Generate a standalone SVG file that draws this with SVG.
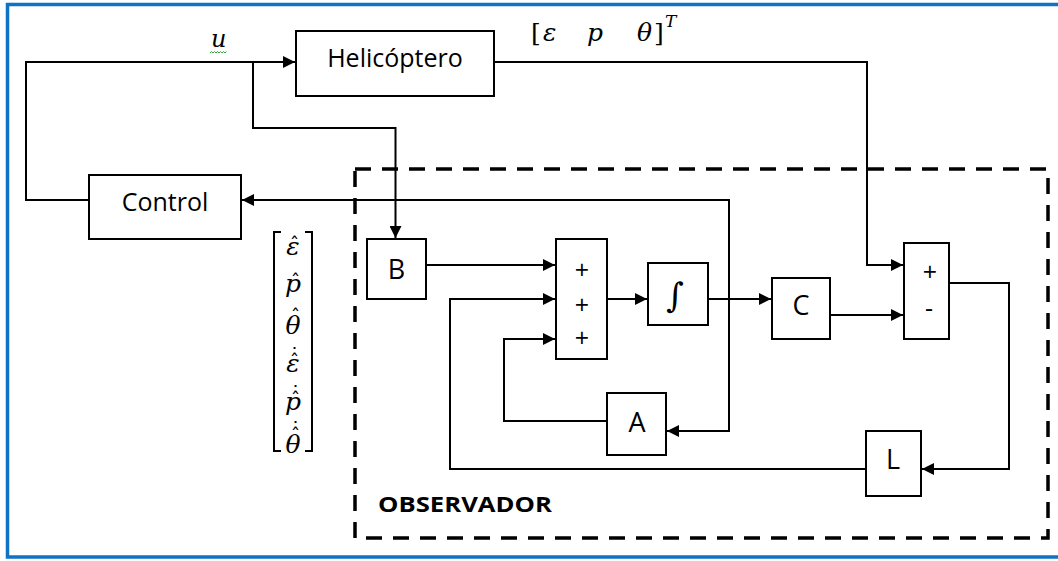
<svg xmlns="http://www.w3.org/2000/svg" width="1058" height="561" viewBox="0 0 1058 561">
<style>
.blk{fill:#fff;stroke:#000;stroke-width:2}
.lbl{font-family:"Open Sans","Liberation Sans",sans-serif;fill:#000;text-anchor:middle}
.sg{font-family:"Open Sans","Liberation Sans",sans-serif;fill:#000;text-anchor:middle;font-size:25px}
.mth{font-family:"DejaVu Serif","Liberation Serif",serif;font-style:italic;fill:#000}
.ac{font-family:"DejaVu Sans","Liberation Sans",sans-serif;font-style:normal;font-size:19px}
.ln{fill:none;stroke:#000;stroke-width:2}
</style>
<defs>
<marker id="ah" viewBox="0 0 12 12" refX="12" refY="6" markerWidth="12" markerHeight="12" markerUnits="userSpaceOnUse" orient="auto">
<path d="M0,0 L12,6 L0,12 z" fill="#000"/>
</marker>
</defs>
<rect width="1058" height="561" fill="#fff"/>
<path d="M1058,4.5 H7.5 V557 H1058" fill="none" stroke="#0f72c4" stroke-width="3.5"/>
<rect id="observador" x="355" y="169" width="693" height="369" fill="none" stroke="#000" stroke-width="3.5" stroke-dasharray="16,11"/>
<g id="connectors">
<path class="ln" d="M89,200 H26 V62 H295" marker-end="url(#ah)"/>
<path class="ln" d="M253,62 V128 H395.5 V238" marker-end="url(#ah)"/>
<path class="ln" d="M494,62 H867 V265 H903" marker-end="url(#ah)"/>
<path class="ln" d="M426,265 H555" marker-end="url(#ah)"/>
<path class="ln" d="M866,469 H450 V299 H555" marker-end="url(#ah)"/>
<path class="ln" d="M607,421 H504 V339 H555" marker-end="url(#ah)"/>
<path class="ln" d="M607,299 H647" marker-end="url(#ah)"/>
<path class="ln" d="M708,299 H771" marker-end="url(#ah)"/>
<path class="ln" d="M729,299 V431 H667" marker-end="url(#ah)"/>
<path class="ln" d="M729,299 V200 H242" marker-end="url(#ah)"/>
<path class="ln" d="M830,315 H903" stroke="#777" stroke-width="2.5" marker-end="url(#ah)"/>
<path class="ln" d="M949,283 H1009 V469 H922" marker-end="url(#ah)"/>
</g>
<g id="helicoptero">
<rect class="blk" x="296" y="31" width="198" height="65"/>
<text class="lbl" x="395" y="67" font-size="25">Helicóptero</text>
</g>
<g id="control">
<rect class="blk" x="89" y="175" width="152" height="64"/>
<text class="lbl" x="165" y="211" font-size="25">Control</text>
</g>
<g id="B">
<rect class="blk" x="367" y="239" width="59" height="60"/>
<text class="lbl" x="396.5" y="279" font-size="27">B</text>
</g>
<g id="sum">
<rect class="blk" x="556" y="239" width="51" height="120"/>
<text class="sg" x="582" y="279">+</text>
<text class="sg" x="582" y="314">+</text>
<text class="sg" x="582" y="347">+</text>
</g>
<g id="integrador">
<rect class="blk" x="648" y="263" width="60" height="62"/>
<text x="675" y="307" font-family="DejaVu Serif, serif" font-style="italic" font-size="34" text-anchor="middle" fill="#000">∫</text>
</g>
<g id="C">
<rect class="blk" x="772" y="278" width="58" height="61"/>
<text class="lbl" x="801" y="315" font-size="27">C</text>
</g>
<g id="diff">
<rect class="blk" x="904" y="243" width="45" height="96"/>
<text class="sg" x="930" y="281">+</text>
<text class="sg" x="929" y="317">-</text>
</g>
<g id="A">
<rect class="blk" x="607" y="393" width="59" height="62"/>
<text class="lbl" x="637" y="432" font-size="27">A</text>
</g>
<g id="L">
<rect class="blk" x="866" y="431" width="55" height="65"/>
<text class="lbl" x="893" y="469" font-size="27">L</text>
</g>
<g id="labels">
<text class="mth" x="211" y="47" font-size="24">u</text>
<path d="M210,53 l1.5,-1.5 l1.5,1.5 l1.5,-1.5 l1.5,1.5 l1.5,-1.5 l1.5,1.5 l1.5,-1.5 l1.5,1.5 l1.5,-1.5 l1.5,1.5 l1.5,-1.5" fill="none" stroke="#3aa53a" stroke-width="1"/>
<text font-family="DejaVu Serif, Liberation Serif, serif" font-size="25" fill="#000" y="41"><tspan x="531">[</tspan><tspan x="543" font-style="italic">ε</tspan><tspan x="587" font-style="italic">p</tspan><tspan x="637" font-style="italic">θ</tspan><tspan x="654">]</tspan><tspan x="665" y="27" font-size="17" font-style="italic">T</tspan></text>
<path d="M281,232 H274 V451 H281 M305,232 H312 V451 H305" fill="none" stroke="#000" stroke-width="2"/>
<g class="mth" font-size="25" text-anchor="middle">
<text x="293" y="255">ε<tspan class="ac" x="294.5" y="251">ˆ</tspan></text>
<text x="293" y="292">p<tspan class="ac" x="295.5" y="288">ˆ</tspan></text>
<text x="293" y="334">θ<tspan class="ac" x="295.5" y="323">ˆ</tspan></text>
<text x="293" y="372">ε<tspan class="ac" x="294.5" y="368">ˆ</tspan><tspan class="ac" x="294.5" y="362">˙</tspan></text>
<text x="293" y="410">p<tspan class="ac" x="295.5" y="406">ˆ</tspan><tspan class="ac" x="295.5" y="400">˙</tspan></text>
<text x="293" y="453">θ<tspan class="ac" x="295.5" y="442">ˆ</tspan><tspan class="ac" x="295.5" y="436">˙</tspan></text>
</g>
<text x="378" y="512" font-family="Open Sans, Liberation Sans, sans-serif" font-weight="bold" font-size="22" textLength="174" lengthAdjust="spacingAndGlyphs" fill="#000">OBSERVADOR</text>
</g>
</svg>
